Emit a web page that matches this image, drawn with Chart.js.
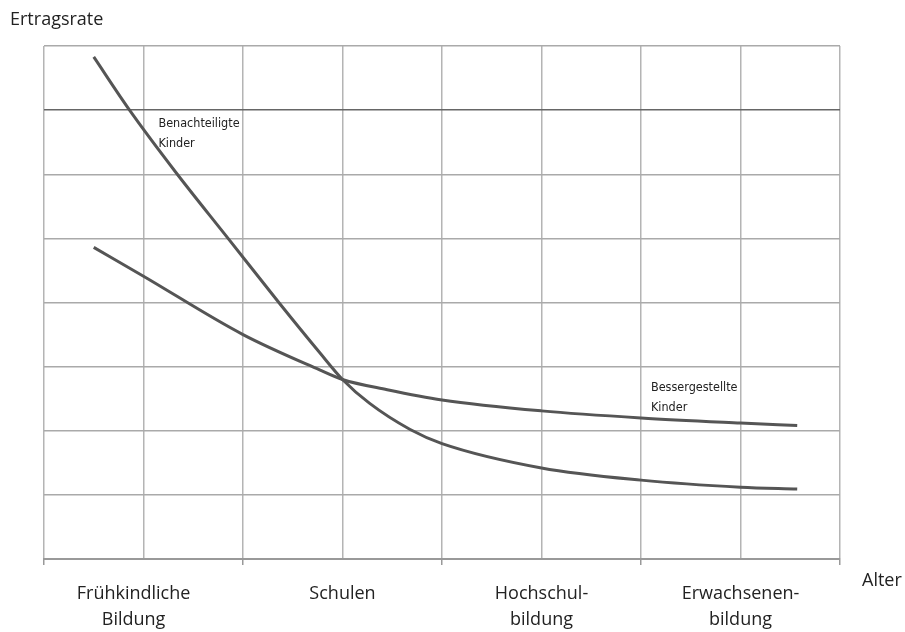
<!DOCTYPE html>
<html lang="de">
  <head>
    <meta charset="UTF-8" />
    <title>Ertragsrate</title>
    <script src="https://cdn.jsdelivr.net/npm/chart.js@4"></script>
    <style>
      html, body { margin: 0; padding: 0; background: #fff; }
      #wrap { width: 905px; height: 632px; }
    </style>
  </head>
  <body>
    <div id="wrap"><canvas id="chart"></canvas></div>
    <script>
      // Bildungsphasen (Beschriftung an den ungeraden Gitterlinien)
      const categories = [
        ["Frühkindliche", "Bildung"],
        ["Schulen"],
        ["Hochschul-", "bildung"],
        ["Erwachsenen-", "bildung"]
      ];
      const categoryPos = [0.9, 3, 5, 7];

      const benachteiligtX = [0.5, 0.86, 1.33, 1.85, 2.36, 2.77, 3.0, 3.27, 3.68, 4.0, 5.0, 6.0, 7.0, 7.57];
      const benachteiligtY = [7.83, 7.0, 6.02, 5.0, 4.0, 3.22, 2.8, 2.43, 2.02, 1.8, 1.42, 1.23, 1.12, 1.09];
      const bessergestelltX = [0.5, 1.0, 2.0, 2.77, 3.0, 3.45, 4.0, 5.0, 6.0, 7.0, 7.57];
      const bessergestelltY = [4.86, 4.41, 3.5, 2.95, 2.8, 2.64, 2.48, 2.31, 2.2, 2.12, 2.08];

      const toPoints = (xs, ys) => xs.map((x, i) => ({ x: x, y: ys[i] }));

      const textPlugin = {
        id: "texte",
        afterDraw(chart) {
          const ctx = chart.ctx;
          const xs = chart.scales.x;
          const ys = chart.scales.y;
          ctx.save();
          ctx.fillStyle = "#222";
          ctx.font = '18px "Open Sans"';
          ctx.textBaseline = "middle";
          ctx.textAlign = "left";
          ctx.fillText("Ertragsrate", 10, 20);
          ctx.fillText("Alter", xs.right + 22, ys.bottom + 22);

          ctx.font = '12.5px "DejaVu Sans Condensed"';
          ctx.fillText("Benachteiligte", xs.getPixelForValue(1.15), ys.getPixelForValue(6.78));
          ctx.fillText("Kinder", xs.getPixelForValue(1.15), ys.getPixelForValue(6.47));
          ctx.fillText("Bessergestellte", xs.getPixelForValue(6.1), ys.getPixelForValue(2.67));
          ctx.fillText("Kinder", xs.getPixelForValue(6.1), ys.getPixelForValue(2.36));
          ctx.restore();
        }
      };

      new Chart(document.getElementById("chart"), {
        type: "line",
        data: {
          datasets: [
            {
              label: "Benachteiligte Kinder",
              data: toPoints(benachteiligtX, benachteiligtY),
              borderColor: "#555",
              borderWidth: 3,
              pointRadius: 0,
              cubicInterpolationMode: "monotone",
              fill: false
            },
            {
              label: "Bessergestellte Kinder",
              data: toPoints(bessergestelltX, bessergestelltY),
              borderColor: "#555",
              borderWidth: 3,
              pointRadius: 0,
              cubicInterpolationMode: "monotone",
              fill: false
            }
          ]
        },
        options: {
          responsive: true,
          maintainAspectRatio: false,
          animation: false,
          layout: { padding: { left: 44, right: 65, top: 46, bottom: 0 } },
          plugins: {
            legend: { display: false },
            tooltip: { enabled: false }
          },
          scales: {
            x: {
              type: "linear",
              min: 0,
              max: 8,
              afterBuildTicks(scale) {
                const t = [];
                for (let v = 0; v <= 8; v++) t.push({ value: v });
                categoryPos.forEach((p) => { if (p % 1 !== 0) t.push({ value: p }); });
                t.sort((a, b) => a.value - b.value);
                scale.ticks = t;
              },
              afterFit(scale) { scale.height = 73; },
              grid: {
                color: (c) => (c.tick && c.tick.value % 1 !== 0 ? "transparent" : "#b4b4b4"),
                lineWidth: 1.5,
                tickLength: 6,
                tickColor: (c) => (c.tick && c.tick.value % 2 === 0 ? "#999" : "transparent")
              },
              border: { display: true, color: "#999", width: 2 },
              ticks: {
                autoSkip: false,
                maxRotation: 0,
                padding: 16,
                color: "#222",
                font: { family: "Open Sans", size: 18, lineHeight: 1.45 },
                callback: (v) => {
                  const i = categoryPos.indexOf(v);
                  return i >= 0 ? categories[i] : "";
                }
              }
            },
            y: {
              min: 0,
              max: 8,
              ticks: { display: false, stepSize: 1 },
              grid: {
                color: (c) => (c.tick && c.tick.value === 7 ? "#666" : "#aaa"),
                lineWidth: 1.5,
                drawTicks: false
              },
              border: { display: false }
            }
          }
        },
        plugins: [textPlugin]
      });
    </script>
  </body>
</html>
